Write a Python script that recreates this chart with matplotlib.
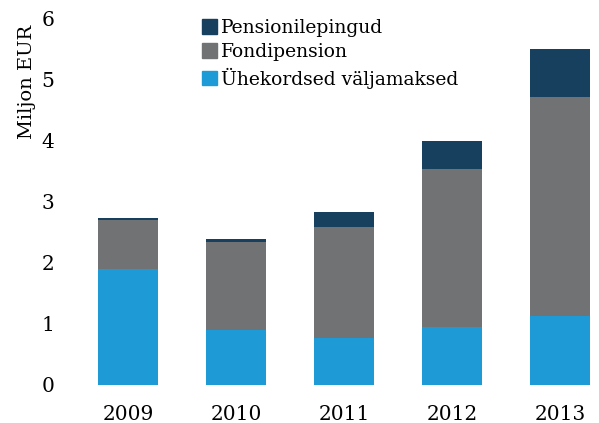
import matplotlib
matplotlib.use("Agg")
import matplotlib.pyplot as plt
from matplotlib.patches import Patch

years = ["2009", "2010", "2011", "2012", "2013"]
uhekordsed = [1.90, 0.89, 0.76, 0.95, 1.12]
fondipension = [0.80, 1.44, 1.83, 2.59, 3.60]
pensionilepingud = [0.03, 0.06, 0.23, 0.45, 0.78]

c_blue = "#1e9ad6"
c_gray = "#717274"
c_dark = "#173f5e"

plt.rcParams['font.family'] = ['DejaVu Serif']

W, H = 599, 423
fig = plt.figure(figsize=(W/100, H/100), dpi=100)
left, right = 74, 599
y0, y6 = 384.5, 18.5
ax = fig.add_axes([left/W, (H-y0)/H, (right-left)/W, (y0-y6)/H])

x = list(range(len(years)))
bw = 60/108
ax.bar(x, uhekordsed, width=bw, color=c_blue, edgecolor='none')
bottom2 = uhekordsed
ax.bar(x, fondipension, width=bw, bottom=bottom2, color=c_gray, edgecolor='none')
bottom3 = [a+b for a, b in zip(uhekordsed, fondipension)]
ax.bar(x, pensionilepingud, width=bw, bottom=bottom3, color=c_dark, edgecolor='none')

ax.set_xlim(-0.5, (599-128)/108)
ax.set_ylim(0, 6)
ax.set_xticks(x)
ax.set_xticklabels(years)
ax.set_yticks(range(7))
ax.tick_params(axis='both', length=0, labelsize=14.5)
ax.tick_params(axis='y', pad=14)
ax.tick_params(axis='x', pad=15)
for s in ax.spines.values():
    s.set_visible(False)

fig.text(27/W, 1-82/H, "Miljon EUR", rotation=90, ha='center', va='center', fontsize=14)

handles = [Patch(color=c_dark), Patch(color=c_gray), Patch(color=c_blue)]
labels = ["Pensionilepingud", "Fondipension", "Ühekordsed väljamaksed"]
leg = fig.legend(handles, labels, loc='upper left', bbox_to_anchor=(202/W, 1-19/H),
                 frameon=False, fontsize=13.5, handlelength=0.8, handleheight=0.8,
                 handletextpad=0.2, labelspacing=0.33, borderpad=0, borderaxespad=0)

fig.savefig("out.png", dpi=100)
